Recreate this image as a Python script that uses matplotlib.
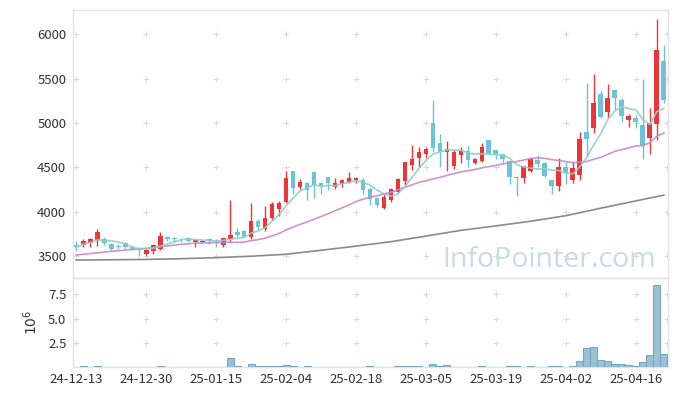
import numpy as np
import pandas as pd
import matplotlib
matplotlib.use('Agg')
import matplotlib.pyplot as plt

# ---------------- data ----------------
holidays = ['2024-12-25', '2024-12-31', '2025-01-01', '2025-01-27', '2025-01-28',
            '2025-01-29', '2025-01-30', '2025-03-03']
dates = pd.bdate_range('2024-12-13', '2025-04-22', freq='C', holidays=holidays)

opens = [3624, 3624, 3650, 3680, 3692, 3635, 3613, 3650, 3598, 3579,
         3523, 3560, 3582, 3714, 3700, 3692, 3706, 3655, 3658, 3692,
         3673, 3620, 3695, 3774, 3782, 3714, 3891, 3808, 3932, 4033,
         4112, 4457, 4281, 4322, 4443, 4322, 4390, 4281, 4311, 4334,
         4356, 4352, 4258, 4153, 4045, 4131, 4225, 4348, 4528, 4604,
         4649, 4998, 4773, 4671, 4517, 4641, 4686, 4547, 4574, 4806,
         4694, 4649, 4570, 4390, 4382, 4461, 4585, 4547, 4356, 4292,
         4502, 4352, 4416, 4904, 4945, 5332, 5125, 5369, 5257, 5039,
         5058, 4975, 4833, 4994, 5696]
highs = [3673, 3692, 3706, 3804, 3710, 3650, 3635, 3658, 3624, 3605,
         3587, 3632, 3767, 3725, 3718, 3703, 3714, 3692, 3680, 3699,
         3695, 3703, 4131, 3819, 3793, 4100, 3917, 4063, 4105, 4120,
         4454, 4460, 4364, 4334, 4460, 4334, 4390, 4375, 4364, 4443,
         4390, 4375, 4281, 4168, 4206, 4270, 4375, 4562, 4747, 4728,
         4728, 5257, 4871, 4800, 4694, 4728, 4739, 4604, 4769, 4806,
         4694, 4649, 4580, 4400, 4514, 4611, 4638, 4559, 4356, 4600,
         4555, 4555, 4900, 5452, 5550, 5362, 5437, 5377, 5287, 5107,
         5088, 5500, 5174, 6177, 5876]
lows = [3560, 3598, 3605, 3613, 3624, 3560, 3576, 3576, 3568, 3500,
        3508, 3519, 3568, 3673, 3662, 3662, 3655, 3598, 3647, 3635,
        3605, 3598, 3662, 3710, 3710, 3695, 3793, 3782, 3902, 3951,
        4094, 4195, 4258, 4131, 4153, 4195, 4240, 4255, 4277, 4322,
        4318, 4195, 4078, 4048, 4033, 4112, 4206, 4300, 4469, 4506,
        4600, 4675, 4506, 4462, 4487, 4544, 4506, 4536, 4562, 4638,
        4589, 4544, 4315, 4172, 4322, 4450, 4506, 4390, 4195, 4236,
        4315, 4322, 4352, 4623, 4882, 5051, 5058, 5144, 5006, 4956,
        4945, 4589, 4645, 4803, 5220]
closes = [3598, 3669, 3692, 3770, 3650, 3579, 3598, 3598, 3576, 3568,
          3568, 3620, 3725, 3692, 3695, 3688, 3666, 3684, 3673, 3669,
          3658, 3703, 3737, 3737, 3714, 3898, 3827, 3928, 4086, 4101,
          4379, 4271, 4334, 4243, 4300, 4281, 4322, 4318, 4352, 4379,
          4379, 4243, 4142, 4078, 4165, 4255, 4367, 4555, 4592, 4671,
          4709, 4716, 4675, 4705, 4668, 4697, 4581, 4592, 4728, 4649,
          4645, 4592, 4386, 4375, 4514, 4592, 4536, 4405, 4292, 4502,
          4438, 4491, 4818, 4818, 5220, 5069, 5287, 5283, 5080, 5084,
          5009, 4739, 4998, 5820, 5254]
# volume in millions of shares
volumes = [0, 0.1, 0, 0.1, 0, 0, 0, 0, 0, 0,
           0, 0, 0.1, 0, 0, 0, 0, 0, 0, 0,
           0, 0, 0.94, 0.1, 0, 0.30, 0.1, 0.1, 0.1, 0.1,
           0.20, 0.1, 0, 0.1, 0, 0, 0, 0, 0, 0,
           0, 0, 0.1, 0, 0, 0, 0.1, 0.1, 0.1, 0.1,
           0, 0.30, 0.1, 0.20, 0, 0, 0, 0, 0.1, 0,
           0, 0, 0.1, 0.1, 0, 0.1, 0, 0, 0.1, 0.1,
           0, 0.1, 0.66, 1.98, 2.08, 0.76, 0.62, 0.31, 0.31, 0.20,
           0.10, 0.52, 1.25, 8.47, 1.35]
# 20-day average for the first days (needs history before the window)
ma20_head = [3511, 3520, 3528, 3536, 3545, 3553, 3560, 3567, 3574, 3580,
             3587, 3596, 3605, 3614, 3623, 3632, 3638, 3644, 3650]
# 120-day average at these trading-day positions
ma120_pos = [0, 5, 10, 15, 20, 25, 30, 35, 40, 45, 50, 55, 60, 65, 70, 75, 80, 84]
ma120_val = [3455, 3458, 3462, 3470, 3482, 3498, 3520, 3565, 3612, 3662,
             3725, 3790, 3840, 3893, 3955, 4040, 4122, 4187]

tick_every = 10
price_ticks = [3500, 4000, 4500, 5000, 5500, 6000]
vol_ticks = [2.5, 5.0, 7.5]

# ---------------- derived ----------------
n = len(closes)
x = np.arange(n)
o = np.array(opens, float); c = np.array(closes, float)
h = np.array(highs, float); l = np.array(lows, float)
ma5 = pd.Series(c).rolling(5, min_periods=1).mean().values
ma20 = pd.Series(c).rolling(20).mean().values
ma20[:len(ma20_head)] = ma20_head

UP = '#ee3437'
DOWN = '#6cc3da'
up = c >= o
colors = np.where(up, UP, DOWN)

plt.rcParams['font.family'] = ['Noto Sans CJK KR', 'DejaVu Sans']

fig = plt.figure(figsize=(6.77, 3.96), dpi=100)
L, R = 0.1083, 0.9863
ax = fig.add_axes([L, 0.2972, R - L, 0.9747 - 0.2972])
axv = fig.add_axes([L, 0.0725, R - L, 0.2972 - 0.0725], sharex=ax)

fig.text(0.653, 0.326, 'InfoPointer.com', color='#c8dbe6', fontsize=20.5,
         family='Open Sans', ha='left', va='baseline', zorder=0)

# grid crosses
xt = list(range(0, n, tick_every))
xlim = (-0.4, 84.55)
for a, yt in ((ax, price_ticks), (axv, vol_ticks)):
    gx, gy = np.meshgrid(xt + [xlim[1] - 0.05], yt)
    a.plot(gx.ravel(), gy.ravel(), ls='none', marker='+', ms=5, mew=0.8,
           color='#dcdcdc', zorder=1)

# candles
ax.vlines(x, l, h, colors=colors, lw=1.0, zorder=3)
body = np.maximum(np.abs(c - o), 8)
ax.bar(x, body, bottom=np.minimum(o, c), width=0.7, color=colors, lw=0, zorder=4)

# moving averages
ax.plot(ma120_pos, ma120_val, color='#8a8a8a', lw=1.2, zorder=2)
ax.plot(x, ma20, color='#cc88c6', lw=1.2, zorder=5, alpha=0.9)
ax.plot(x, ma5, color='#8fd0c4', lw=1.2, zorder=5, alpha=0.9)

# volume
axv.bar(x, volumes, width=1.0, color='#9ac2d4', edgecolor='#78a8c0', lw=0.8, zorder=3)

ax.set_xlim(*xlim)
ax.set_ylim(3249, 6274)
axv.set_ylim(0, 9.15)
ax.set_yticks(price_ticks)
ax.set_yticklabels([str(v) for v in price_ticks])
axv.set_yticks(vol_ticks)
axv.set_yticklabels([f'{v:.1f}' for v in vol_ticks])
axv.set_xticks(xt)
axv.set_xticklabels([dates[i].strftime('%y-%m-%d') for i in xt])
ax.tick_params(axis='x', labelbottom=False, length=0)
for a in (ax, axv):
    a.tick_params(length=0, labelsize=9.5, colors='#333333', pad=5)
    for s in a.spines.values():
        s.set_color('#e4e4e4')
        s.set_linewidth(1.0)
    a.set_facecolor('none')
axv.tick_params(axis='x', pad=4)
axv.set_ylabel('$10^6$', fontsize=10, color='#333333', labelpad=6)

fig.savefig('out.png', dpi=100)
